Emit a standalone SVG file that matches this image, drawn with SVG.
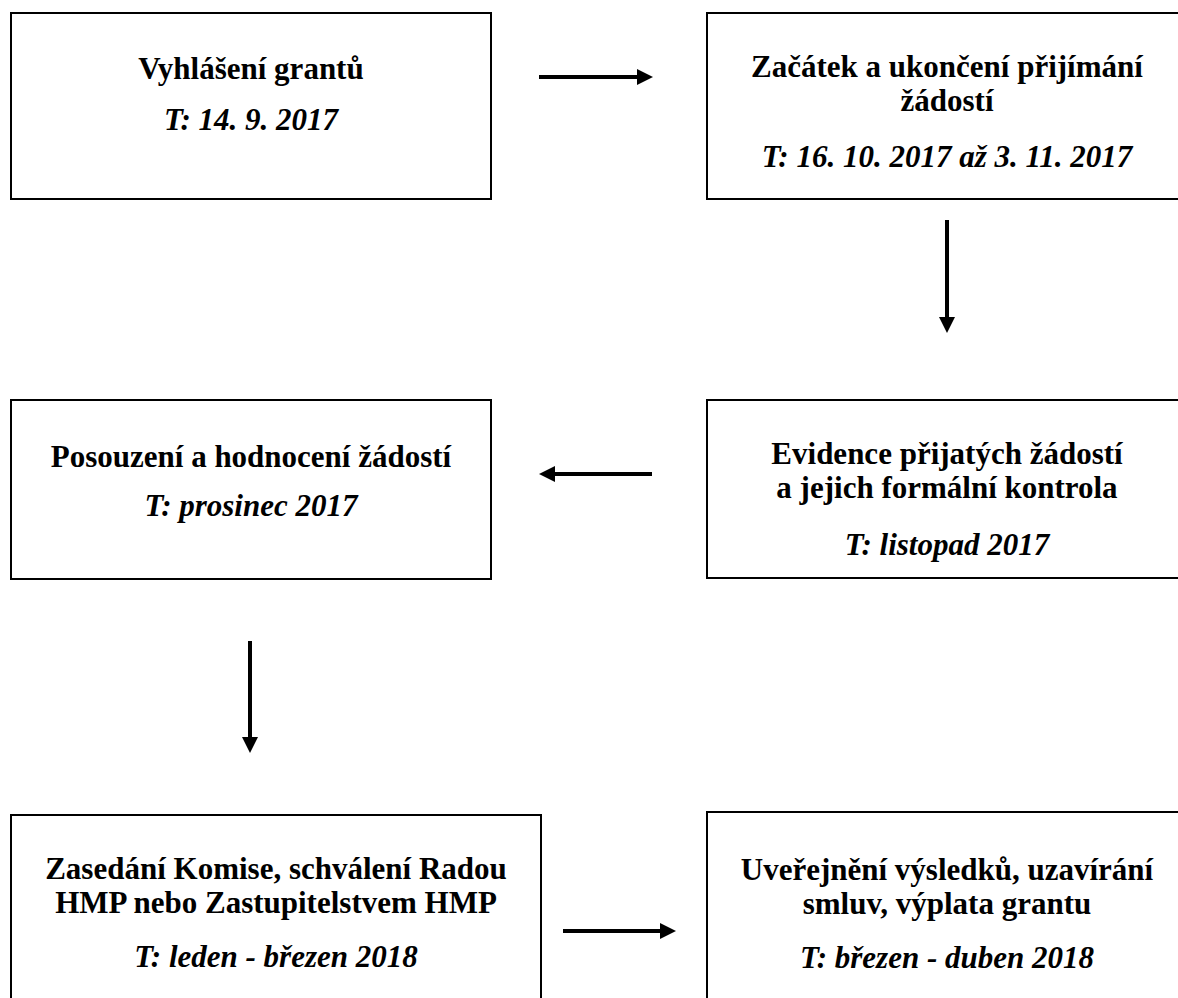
<svg xmlns="http://www.w3.org/2000/svg" width="1178" height="998" viewBox="0 0 1178 998">
<style>
.box{fill:#fff;stroke:#000;stroke-width:2}
.t{font-family:"Liberation Serif","Times New Roman",serif;font-size:31px;font-weight:bold;fill:#000;text-anchor:middle}
.i{font-style:italic}
.c{stroke:#000;stroke-width:4;fill:none}
</style>
<defs>
<marker id="ah" markerWidth="4" markerHeight="4" refX="0" refY="2" orient="auto" markerUnits="strokeWidth" viewBox="0 0 4 4">
<path d="M0,0 L4,2 L0,4 Z" fill="#000"/>
</marker>
</defs>
<rect width="1178" height="998" fill="#fff"/>
<g id="n1">
<rect class="box" x="11" y="13" width="480" height="186"/>
<text class="t" x="251" y="79">Vyhlášení grantů</text>
<text class="t i" x="251" y="130">T: 14. 9. 2017</text>
</g>
<g id="n2">
<rect class="box" x="707" y="13" width="480" height="186"/>
<text class="t" x="947" y="77">Začátek a ukončení přijímání</text>
<text class="t" x="947" y="111">žádostí</text>
<text class="t i" x="947" y="167">T: 16. 10. 2017 až 3. 11. 2017</text>
</g>
<g id="n3">
<rect class="box" x="11" y="400" width="480" height="179"/>
<text class="t" x="251" y="467">Posouzení a hodnocení  žádostí</text>
<text class="t i" x="251" y="516">T: prosinec 2017</text>
</g>
<g id="n4">
<rect class="box" x="707" y="400" width="480" height="178"/>
<text class="t" x="947" y="464">Evidence přijatých  žádostí</text>
<text class="t" x="947" y="498">a jejich formální  kontrola</text>
<text class="t i" x="947" y="555">T: listopad 2017</text>
</g>
<g id="n5">
<rect class="box" x="11" y="815" width="530" height="200"/>
<text class="t" x="276" y="879">Zasedání Komise, schválení Radou</text>
<text class="t" x="276" y="913">HMP nebo Zastupitelstvem HMP</text>
<text class="t i" x="276" y="967">T: leden - březen 2018</text>
</g>
<g id="n6">
<rect class="box" x="707" y="812" width="480" height="200"/>
<text class="t" x="947" y="880">Uveřejnění výsledků, uzavírání</text>
<text class="t" x="947" y="914">smluv, výplata grantu</text>
<text class="t i" x="947" y="968">T: březen - duben 2018</text>
</g>
<g id="connectors">
<line class="c" x1="539" y1="77" x2="637" y2="77" marker-end="url(#ah)"/>
<line class="c" x1="947" y1="220" x2="947" y2="317" marker-end="url(#ah)"/>
<line class="c" x1="652" y1="474" x2="555" y2="474" marker-end="url(#ah)"/>
<line class="c" x1="250" y1="641" x2="250" y2="737" marker-end="url(#ah)"/>
<line class="c" x1="563" y1="931" x2="660" y2="931" marker-end="url(#ah)"/>
</g>
</svg>
